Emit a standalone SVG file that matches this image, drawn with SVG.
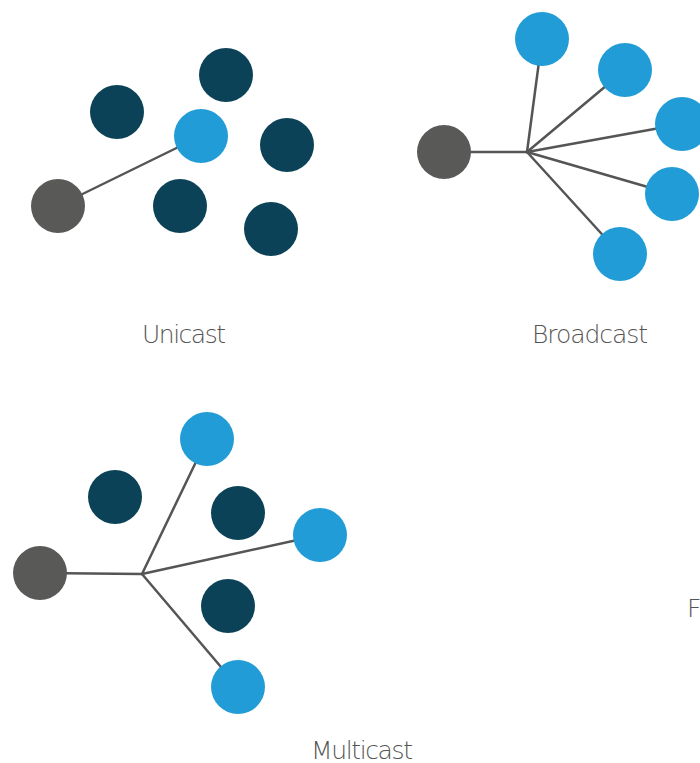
<svg xmlns="http://www.w3.org/2000/svg" width="700" height="763" viewBox="0 0 700 763">
<style>
.src{fill:#595957}
.dk{fill:#0C4257}
.bl{fill:#219CD6}
.ln{stroke:#555;stroke-width:2.5;fill:none;stroke-linecap:round}
.lb{font-family:"DejaVu Sans","Liberation Sans",sans-serif;font-weight:200;font-size:25px;fill:#555}
</style>
<rect width="700" height="763" fill="#fff"/>
<g id="connectors">
<line class="ln" x1="58" y1="206" x2="201" y2="136"/>
<line class="ln" x1="444" y1="152" x2="527" y2="152"/>
<line class="ln" x1="527" y1="152" x2="542" y2="39"/>
<line class="ln" x1="527" y1="152" x2="625" y2="70"/>
<line class="ln" x1="527" y1="152" x2="682" y2="124"/>
<line class="ln" x1="527" y1="152" x2="672" y2="194"/>
<line class="ln" x1="527" y1="152" x2="620" y2="254"/>
<line class="ln" x1="40" y1="573" x2="142" y2="574"/>
<line class="ln" x1="142" y1="574" x2="207" y2="439"/>
<line class="ln" x1="142" y1="574" x2="320" y2="535"/>
<line class="ln" x1="142" y1="574" x2="238" y2="687"/>
</g>
<g id="unicast">
<circle id="u-src" class="src" cx="58" cy="206" r="27"/>
<circle id="u-d1" class="dk" cx="117" cy="112" r="27"/>
<circle id="u-d2" class="dk" cx="226" cy="75" r="27"/>
<circle id="u-b" class="bl" cx="201" cy="136" r="27"/>
<circle id="u-d3" class="dk" cx="287" cy="145" r="27"/>
<circle id="u-d4" class="dk" cx="180" cy="206" r="27"/>
<circle id="u-d5" class="dk" cx="271" cy="229" r="27"/>
<text class="lb" x="184" y="343" text-anchor="middle" textLength="84">Unicast</text>
</g>
<g id="broadcast">
<circle id="b-src" class="src" cx="444" cy="152" r="27"/>
<circle id="b-1" class="bl" cx="542" cy="39" r="27"/>
<circle id="b-2" class="bl" cx="625" cy="70" r="27"/>
<circle id="b-3" class="bl" cx="682" cy="124" r="27"/>
<circle id="b-4" class="bl" cx="672" cy="194" r="27"/>
<circle id="b-5" class="bl" cx="620" cy="254" r="27"/>
<text class="lb" x="590" y="343" text-anchor="middle" textLength="116">Broadcast</text>
</g>
<g id="multicast">
<circle id="m-src" class="src" cx="40" cy="573" r="27"/>
<circle id="m-d1" class="dk" cx="115" cy="497" r="27"/>
<circle id="m-b1" class="bl" cx="207" cy="439" r="27"/>
<circle id="m-d2" class="dk" cx="238" cy="513" r="27"/>
<circle id="m-b2" class="bl" cx="320" cy="535" r="27"/>
<circle id="m-d3" class="dk" cx="228" cy="606" r="27"/>
<circle id="m-b3" class="bl" cx="238" cy="687" r="27"/>
<text class="lb" x="362" y="759" text-anchor="middle" textLength="102">Multicast</text>
</g>
<g id="fourth">
<text class="lb" x="687" y="617">Fi</text>
</g>
</svg>
